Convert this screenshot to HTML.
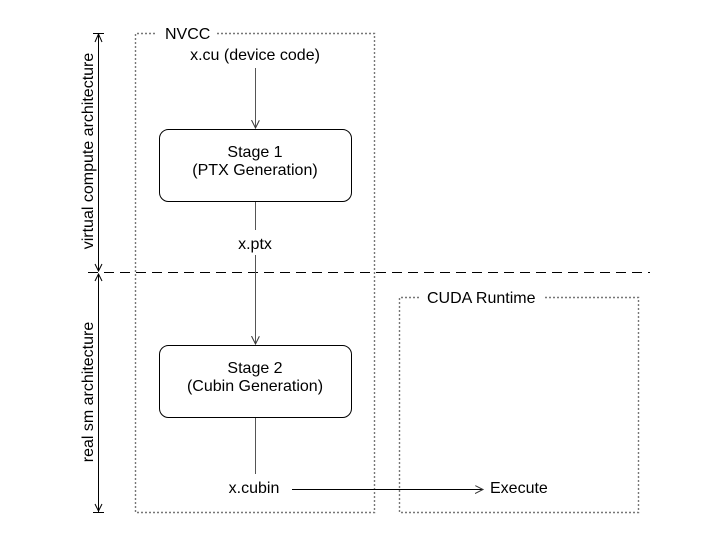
<!DOCTYPE html>
<html><head><meta charset="utf-8"><style>
html,body{margin:0;padding:0;background:#fff;}
svg{display:block;}
text{font-family:"Liberation Sans",Arial,sans-serif;font-size:16px;fill:#000;}
</style></head><body>
<svg width="707" height="558" viewBox="0 0 707 558" xmlns="http://www.w3.org/2000/svg">
<defs>
<marker id="a" markerWidth="10" markerHeight="10" refX="8" refY="4" orient="auto" markerUnits="userSpaceOnUse">
<path d="M0,0 L8,4 L0,8" fill="none" stroke="#333" stroke-width="1"/>
</marker>
</defs>
<path d="M155,33.5 H135.5 V512.5 H374.5 V33.5 H216" fill="none" stroke="#777" stroke-width="1.4" stroke-dasharray="2,2"/>
<text x="165" y="39">NVCC</text>
<path d="M419,297.5 H399.5 V512.5 H638.5 V297.5 H544" fill="none" stroke="#777" stroke-width="1.4" stroke-dasharray="2,2"/>
<text x="427" y="303">CUDA Runtime</text>
<line x1="88" y1="272.5" x2="650" y2="272.5" stroke="#000" stroke-width="1" stroke-dasharray="10,6"/>
<line x1="98.5" y1="34" x2="98.5" y2="271" stroke="#000" stroke-width="1"/>
<line x1="98.5" y1="274" x2="98.5" y2="512" stroke="#000" stroke-width="1"/>
<line x1="93" y1="33.5" x2="104" y2="33.5" stroke="#000"/>
<line x1="93" y1="512.5" x2="104" y2="512.5" stroke="#000"/>
<path d="M95,42 L98.5,34 L102,42 M95,264 L98.5,271 L102,264 M95,281 L98.5,274 L102,281 M95,504 L98.5,511 L102,504" fill="none" stroke="#000"/>
<text transform="translate(93,151) rotate(-90)" text-anchor="middle">virtual compute architecture</text>
<text transform="translate(93,392) rotate(-90)" text-anchor="middle">real sm architecture</text>
<text x="255" y="60" text-anchor="middle">x.cu (device code)</text>
<line x1="255.5" y1="68" x2="255.5" y2="128" stroke="#555" marker-end="url(#a)"/>
<rect x="159.5" y="129.5" width="192" height="72" rx="9" fill="#fff" stroke="#000"/>
<text x="255" y="157" text-anchor="middle">Stage 1</text>
<text x="255" y="175" text-anchor="middle">(PTX Generation)</text>
<line x1="255.5" y1="202" x2="255.5" y2="230" stroke="#555"/>
<text x="255" y="249" text-anchor="middle">x.ptx</text>
<line x1="255.5" y1="255" x2="255.5" y2="344" stroke="#555" marker-end="url(#a)"/>
<rect x="159.5" y="345.5" width="192" height="72" rx="9" fill="#fff" stroke="#000"/>
<text x="255" y="373" text-anchor="middle">Stage 2</text>
<text x="255" y="391" text-anchor="middle">(Cubin Generation)</text>
<line x1="255.5" y1="418" x2="255.5" y2="474" stroke="#555"/>
<text x="254" y="493" text-anchor="middle">x.cubin</text>
<line x1="292" y1="489.5" x2="483" y2="489.5" stroke="#000" marker-end="url(#a)"/>
<text x="490" y="493">Execute</text>
</svg>
</body></html>
